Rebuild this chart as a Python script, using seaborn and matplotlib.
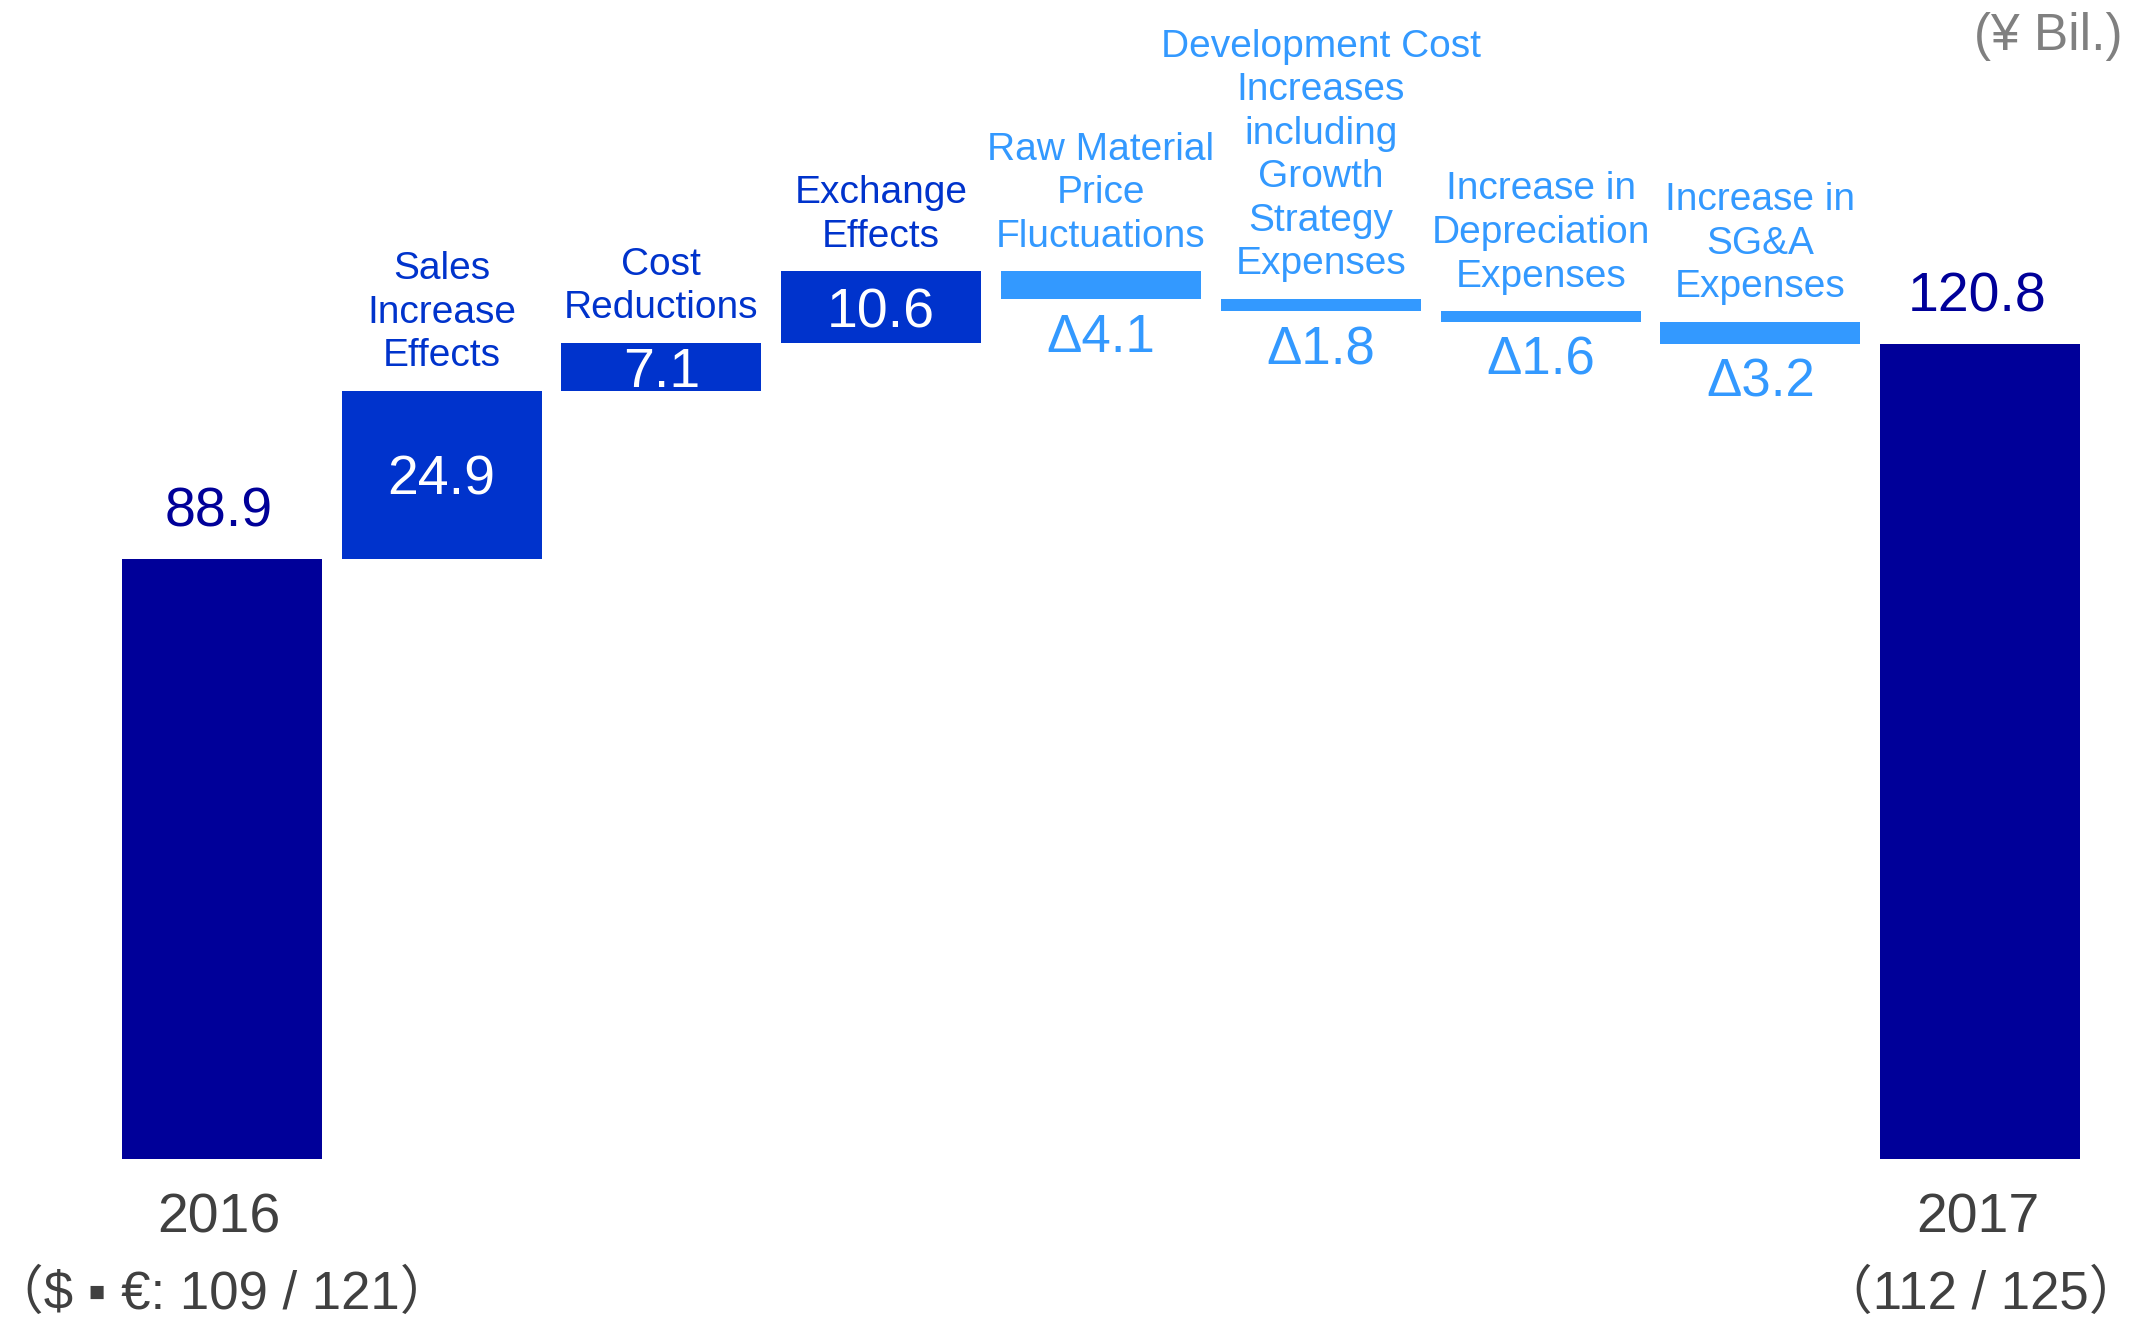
import numpy as np
import pandas as pd
import seaborn as sns
import matplotlib
matplotlib.use('Agg')
import matplotlib.pyplot as plt

sns.set_theme(style='white')
plt.rcParams['font.family'] = ['Liberation Sans', 'Noto Sans CJK JP', 'DejaVu Sans']

# data (¥ Bil.)
steps = ['2016', 'sales', 'cost', 'fx', 'raw', 'dev', 'dep', 'sga', '2017']
labels = ['', 'Sales\nIncrease\nEffects', 'Cost\nReductions', 'Exchange\nEffects',
          'Raw Material\nPrice\nFluctuations',
          'Development Cost\nIncreases\nincluding\nGrowth\nStrategy\nExpenses',
          'Increase in\nDepreciation\nExpenses', 'Increase in\nSG&A\nExpenses', '']
values = [88.9, 24.9, 7.1, 10.6, -4.1, -1.8, -1.6, -3.2, 120.8]
kinds = ['total', 'up', 'up', 'up', 'down', 'down', 'down', 'down', 'total']
year_labels = {0: ('2016', '（$ ▪ €: 109 / 121）'), 8: ('2017', '（112 / 125）')}

navy = '#000099'
up_c = '#0033CC'
down_c = '#3399FF'
colors = {'total': navy, 'up': up_c, 'down': down_c}

# waterfall bottoms
bottoms = []
run = 0.0
for v, k in zip(values, kinds):
    if k == 'total':
        bottoms.append(0.0)
        run = v
    else:
        bottoms.append(run)
        run += v

df = pd.DataFrame({'step': steps, 'value': values})

fig = plt.figure(figsize=(21.46, 13.19), dpi=100)
ax = fig.add_axes([0, 0, 1, 1])
sns.barplot(data=df, x='step', y='value', order=steps, width=0.91,
            color=navy, bottom=bottoms, linewidth=0, errorbar=None, ax=ax)
for p, k in zip(ax.patches, kinds):
    p.set_facecolor(colors[k])

ax.set_xlim(-1.009, 8.754)
ax.set_ylim(-23.7, 171.7)
ax.axis('off')

for i, (v, k, b, lab) in enumerate(zip(values, kinds, bottoms, labels)):
    top = max(b, b + v)
    low = min(b, b + v)
    if k == 'total':
        ax.annotate(f'{v:.1f}', (i, top), xytext=(-2, 23), textcoords='offset points',
                    ha='center', va='baseline', fontsize=40, color=navy)
        y1, y2 = year_labels[i]
        ax.annotate(y1, (i, 0), xytext=(-2, -53), textcoords='offset points',
                    ha='center', va='baseline', fontsize=40, color='#404040')
        ax.annotate(y2, (i, 0), xytext=(0, -108), textcoords='offset points',
                    ha='center', va='baseline', fontsize=38, color='#404040')
    elif k == 'up':
        ax.text(i, b + v / 2, f'{v:.1f}', ha='center', va='center_baseline',
                fontsize=40, color='white')
        ax.annotate(lab, (i, top), xytext=(0, 12), textcoords='offset points',
                    ha='center', va='bottom', fontsize=28, color=up_c,
                    linespacing=1.27)
    else:
        ax.annotate(lab, (i, top), xytext=(0, 12), textcoords='offset points',
                    ha='center', va='bottom', fontsize=28, color=down_c,
                    linespacing=1.27)
        ax.annotate(f'Δ{abs(v):.1f}', (i, low), xytext=(0, -10), textcoords='offset points',
                    ha='center', va='top', fontsize=38, color=down_c)

fig.text(0.989, 0.962, '(¥ Bil.)', ha='right', va='baseline', fontsize=37, color='#808080')

fig.savefig('out.png', dpi=100)
